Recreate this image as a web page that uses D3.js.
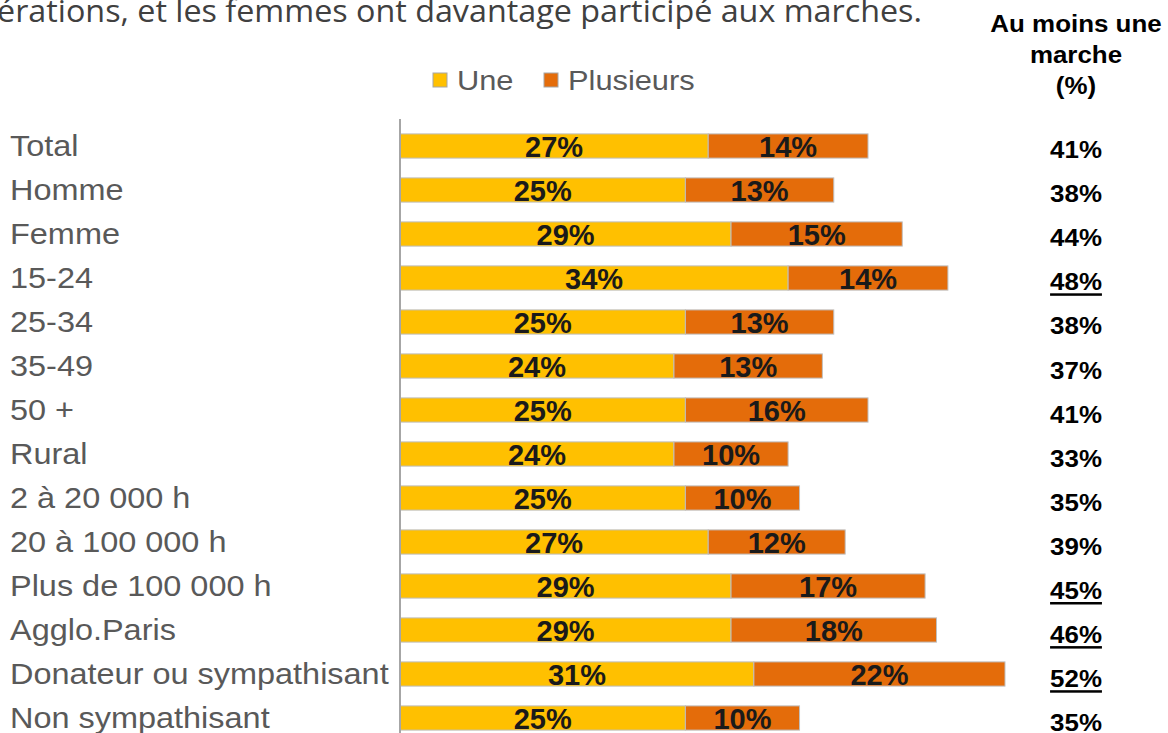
<!DOCTYPE html>
<html><head><meta charset="utf-8">
<script src="https://cdn.jsdelivr.net/npm/d3@7"></script>
<style>html,body{margin:0;padding:0;background:#fff;overflow:hidden}</style>
</head><body>
<svg id="chart" width="1168" height="733"></svg>
<script>
const categories = ["Total","Homme","Femme","15-24","25-34","35-49","50 +","Rural","2 à 20 000 h","20 à 100 000 h","Plus de 100 000 h","Agglo.Paris","Donateur ou sympathisant","Non sympathisant"];
const une = [27,25,29,34,25,24,25,24,25,27,29,29,31,25];
const plusieurs = [14,13,15,14,13,13,16,10,10,12,17,18,22,10];
const auMoinsUne = [41,38,44,48,38,37,41,33,35,39,45,46,52,35];
const underlined = [false,false,false,true,false,false,false,false,false,false,true,true,true,false];
const seriesNames = ["Une","Plusieurs"];
const headerLines = ["Au moins une","marche","(%)"];
const titleText = "érations, et les femmes ont davantage participé aux marches.";

const colors = {Une:"#FFC000", Plusieurs:"#E46C0A"};
const svg = d3.select("#chart");

const x = d3.scaleLinear().domain([0,53]).range([400,1005]);
const y = d3.scaleBand().domain(categories).range([124,740]).paddingInner(0.45).paddingOuter(0.225);

// title (clipped at top/left like the reference)
svg.append("text").attr("x",-3).attr("y",22)
  .attr("font-family","'Open Sans', 'Noto Sans', sans-serif").attr("font-size",31)
  .attr("fill","#404040").attr("textLength",925).attr("lengthAdjust","spacingAndGlyphs")
  .text(titleText);

// header
const hdr = svg.append("g");
headerLines.forEach((t,i)=>{
  hdr.append("text").attr("transform",`translate(1076,${32+i*31}) scale(1.08,1)`)
    .attr("text-anchor","middle").attr("font-family","'Liberation Sans', Arial, sans-serif")
    .attr("font-weight","bold").attr("font-size",24).attr("fill","#000").text(t);
});

// legend
const legX = [433,544];
seriesNames.forEach((s,i)=>{
  svg.append("rect").attr("x",legX[i]).attr("y",73).attr("width",14).attr("height",14)
    .attr("fill",colors[s]).attr("stroke","#a6a6a6").attr("stroke-width",1);
  svg.append("text").attr("transform",`translate(${legX[i]+24},90) scale(1.1,1)`)
    .attr("font-family","'Liberation Sans', Arial, sans-serif").attr("font-size",28)
    .attr("fill","#595959").text(s);
});

// stacked data
const rows = categories.map((c,i)=>({cat:c, Une:une[i], Plusieurs:plusieurs[i]}));
const stack = d3.stack().keys(seriesNames)(rows);

const layers = svg.append("g").selectAll("g").data(stack).join("g")
  .attr("fill",d=>colors[d.key]);
layers.selectAll("rect").data(d=>d).join("rect")
  .attr("x",d=>x(d[0])).attr("y",d=>y(d.data.cat))
  .attr("width",d=>x(d[1])-x(d[0])).attr("height",y.bandwidth())
  .attr("stroke","#bfbfbf").attr("stroke-width",1);

// bar labels
stack.forEach(layer=>{
  svg.append("g").selectAll("text").data(layer).join("text")
    .attr("transform",d=>`translate(${(x(d[0])+x(d[1]))/2},${y(d.data.cat)+y.bandwidth()/2+11}) scale(1.0,1)`)
    .attr("text-anchor","middle").attr("font-family","'Liberation Sans', Arial, sans-serif")
    .attr("font-weight","bold").attr("font-size",29).attr("fill","#1a1a1a")
    .text(d=>(d[1]-d[0])+"%");
});

// y axis
const axis = svg.append("g").attr("transform","translate(400,0)").call(d3.axisLeft(y).tickSize(0));
axis.select(".domain").attr("d","M0,119V740").attr("stroke","#a6a6a6").attr("stroke-width",2);
axis.selectAll(".tick text")
  .attr("x",0).attr("dy",null).attr("y",null)
  .attr("text-anchor","start")
  .attr("transform","translate(-390,10) scale(1.1,1)")
  .attr("font-family","'Liberation Sans', Arial, sans-serif").attr("font-size",29.5)
  .attr("fill","#595959");

// right column values
const vals = svg.append("g");
categories.forEach((c,i)=>{
  const yy = y(c)+y.bandwidth()/2 + 12 + i*0.1;
  const t = vals.append("text").attr("transform",`translate(1076,${yy}) scale(1.08,1)`)
    .attr("text-anchor","middle").attr("font-family","'Liberation Sans', Arial, sans-serif")
    .attr("font-weight","bold").attr("font-size",24).attr("fill","#000")
    .text(auMoinsUne[i]+"%");
  if (underlined[i]) {
    const w = t.node().getComputedTextLength()*1.08;
    vals.append("rect").attr("x",1076-w/2).attr("y",yy+3).attr("width",w).attr("height",2.5).attr("fill","#000");
  }
});
</script>
</body></html>
